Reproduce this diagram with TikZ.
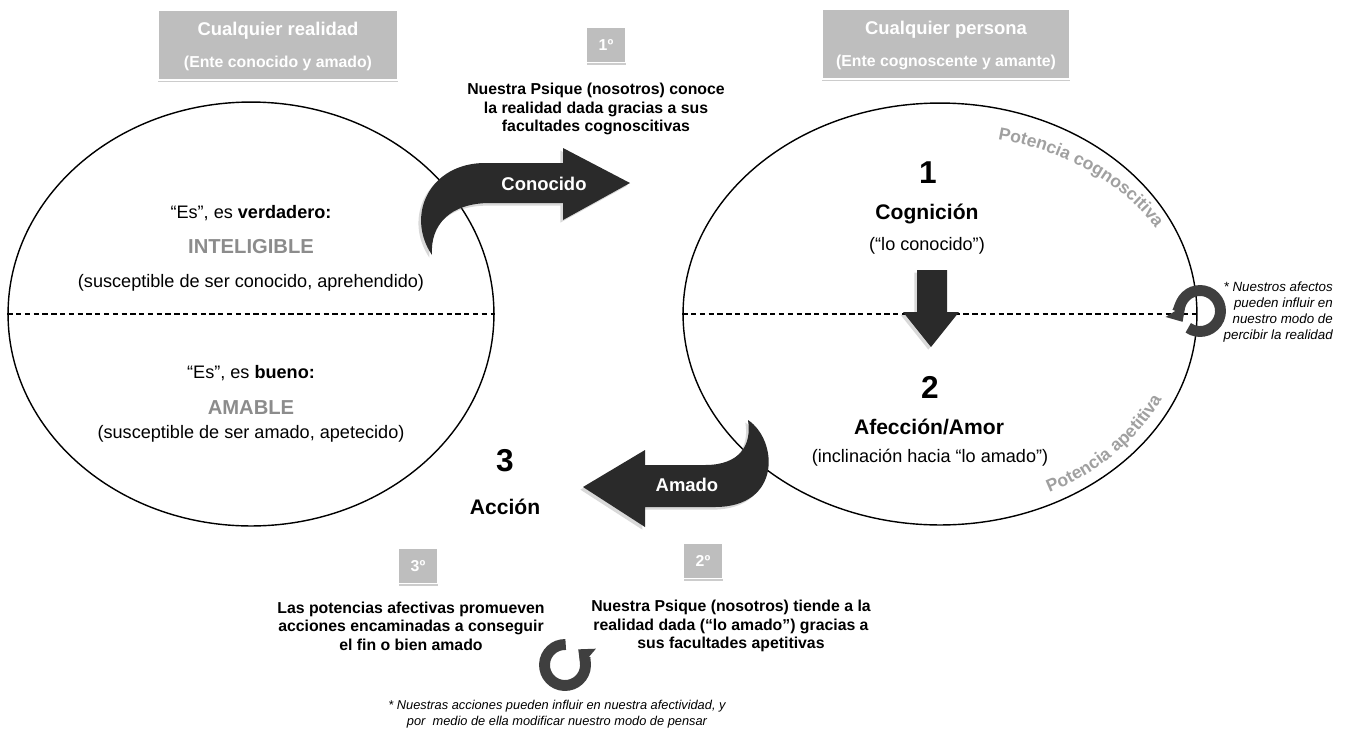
\documentclass[tikz,border=0pt]{standalone}
\usepackage{fontspec}
\setmainfont{Liberation Sans}
\usetikzlibrary{positioning}
\usetikzlibrary{shapes.geometric,shadows,arrows.meta,decorations.text}

\definecolor{boxgray}{RGB}{190,190,190}
\definecolor{wordgray}{RGB}{140,140,140}
\definecolor{arcgray}{RGB}{160,160,160}
\definecolor{darkfill}{RGB}{42,42,42}

\tikzset{
  titlebox/.style={fill=boxgray,draw=white,line width=.8pt,minimum width=4.8cm,minimum height=1.4cm,
    drop shadow={shadow xshift=0pt,shadow yshift=-1.3pt,opacity=.4}},
  stepbox/.style={fill=boxgray,draw=white,line width=.8pt,text=white,minimum width=.78cm,minimum height=.7cm,
    font=\bfseries\fontsize{9}{10}\selectfont,drop shadow={shadow xshift=0pt,shadow yshift=-1.3pt,opacity=.4}},
  titletxt/.style={text=white,font=\bfseries\fontsize{10.5}{12}\selectfont},
  subtxt/.style={text=white,font=\bfseries\fontsize{9}{11}\selectfont},
  steptxt/.style={align=center,font=\bfseries\fontsize{9}{10.5}\selectfont},
  bodytxt/.style={font=\fontsize{10.3}{12}\selectfont},
  headtxt/.style={font=\bfseries\fontsize{12}{14}\selectfont},
  numtxt/.style={font=\bfseries\fontsize{18}{20}\selectfont},
  graytxt/.style={text=wordgray,font=\bfseries\fontsize{11.5}{13}\selectfont},
  notetxt/.style={font=\itshape\fontsize{7.6}{9}\selectfont},
  arrowtxt/.style={text=white,font=\bfseries\fontsize{10.5}{12}\selectfont},
  halfline/.style={dash pattern=on 3pt off 2pt,line width=.6pt},
  bigarrow/.style={fill=darkfill,drop shadow={shadow xshift=-1.5pt,shadow yshift=-1.5pt,opacity=.3}},
  cyclearrow/.style={draw=darkfill!90,line width=6.2pt,-{Triangle[width=13pt,length=7.5pt]}},
  oval/.style={ellipse,draw,line width=.8pt,inner sep=0pt},
}

\begin{document}
\begin{tikzpicture}[x=0.02cm,y=0.02cm]
\useasboundingbox (0,0) rectangle (1346,-731);

% the two ovals
\node[oval,minimum width=9.72cm,minimum height=8.48cm] (real) at (251,-314) {};
\node[oval,minimum width=10.28cm,minimum height=8.44cm] (pers) at (940,-314) {};
\draw[halfline] (real.west) -- (real.east);
\draw[halfline] (pers.west) -- (pers.east);

% titles
\node[titlebox] (realbox) at (278,-45) {};
\node[titletxt] (realtit) at (278,-31) {Cualquier realidad};
\node[subtxt] (realsub) at (278,-63) {(Ente conocido y amado)};
\node[titlebox,minimum width=4.96cm] (persbox) at (946,-44) {};
\node[titletxt] (perstit) at (946,-30) {Cualquier persona};
\node[subtxt] (perssub) at (946,-62) {(Ente cognoscente y amante)};

% steps
\node[stepbox] (s1) at (606,-45) {1º};
\node[steptxt] (t1) at (596,-109) {Nuestra Psique (nosotros) conoce\\la realidad dada gracias a sus\\facultades cognoscitivas};
\node[stepbox] (s2) at (703,-561) {2º};
\node[steptxt] (t2) at (731,-626) {Nuestra Psique (nosotros) tiende a la\\realidad dada (“lo amado”) gracias a\\sus facultades apetitivas};
\node[stepbox] (s3) at (418,-566) {3º};
\node[steptxt] (t3) at (411,-626) {Las potencias afectivas promueven\\acciones encaminadas a conseguir\\el fin o bien amado};

% left oval
\node[bodytxt] (verd) at (251,-213) {“Es”, es \textbf{verdadero:}};
\node[graytxt] (intel) at (251,-247) {INTELIGIBLE};
\node[bodytxt] (cono) at (251,-283) {(susceptible de ser conocido, aprehendido)};
\node[bodytxt] (bueno) at (251,-373) {“Es”, es \textbf{bueno:}};
\node[graytxt] (amab) at (251,-408) {AMABLE};
\node[bodytxt] (apet) at (251,-434) {(susceptible de ser amado, apetecido)};
\node[numtxt] (n3) at (505,-461) {3};
\node[headtxt] (acc) at (505,-507) {Acción};

% right oval
\node[numtxt] (n1) at (928,-173) {1};
\node[headtxt] (cog) at (927,-214) {Cognición};
\node[bodytxt] (locon) at (927,-246) {(“lo conocido”)};
\node[numtxt] (n2) at (930,-387) {2};
\node[headtxt] (afec) at (929,-427) {Afección/Amor};
\node[bodytxt] (incl) at (930,-458) {(inclinación hacia “lo amado”)};

\path[decorate,decoration={text along path,text align=center,
  text={|\bfseries\fontsize{10}{12}\selectfont\color{arcgray}|Potencia cognoscitiva}}]
  (957.1,-134.4) arc[start angle=86,end angle=16,x radius=245,y radius=180];
\path[decorate,decoration={text along path,text align=center,
  text={|\bfseries\fontsize{10}{12}\selectfont\color{arcgray}|Potencia apetitiva}}]
  (990.9,-509.6) arc[start angle=-78,end angle=-8,x radius=245,y radius=200];

% big arrows
\fill[bigarrow] (630,-183) -- (563,-148) -- (563,-163) -- (485,-163)
  .. controls (430,-163) and (405,-215) .. (432,-255)
  .. controls (430,-225) and (450,-203) .. (490,-203)
  -- (563,-203) -- (563,-220) -- cycle;
\node[arrowtxt] (kn) at (544,-184) {Conocido};
\fill[bigarrow] (583,-487) -- (645,-450) -- (645,-465) -- (705,-465)
  .. controls (740,-465) and (752,-445) .. (748,-420)
  .. controls (778,-440) and (782,-507) .. (715,-507)
  -- (645,-507) -- (645,-527) -- cycle;
\node[arrowtxt] (am) at (687,-485) {Amado};
\fill[bigarrow] (917,-270) -- (947,-270) -- (947,-312) -- (959,-312)
  -- (931,-347) -- (903,-312) -- (917,-312) -- cycle;

% feedback loops
\coordinate (c1) at (1200,-311);
\coordinate (c2) at (565,-665);
\draw[cyclearrow] (c1) ++(-125:20.5) arc[start angle=-125,end angle=212,radius=20.5];
\draw[cyclearrow] (c2) ++(88:20.5) arc[start angle=88,end angle=410,radius=20.5];
\node[notetxt,align=right,anchor=east] (afnote) at (1339,-312) {* Nuestros afectos\\pueden influir en\\nuestro modo de\\percibir la realidad};
\node[notetxt,align=center,font=\itshape\fontsize{7.3}{9}\selectfont] (acnote) at (557,-714)
  {* Nuestras acciones pueden influir en nuestra afectividad, y\\por\ \ medio de ella modificar nuestro modo de pensar};
\end{tikzpicture}
\end{document}
